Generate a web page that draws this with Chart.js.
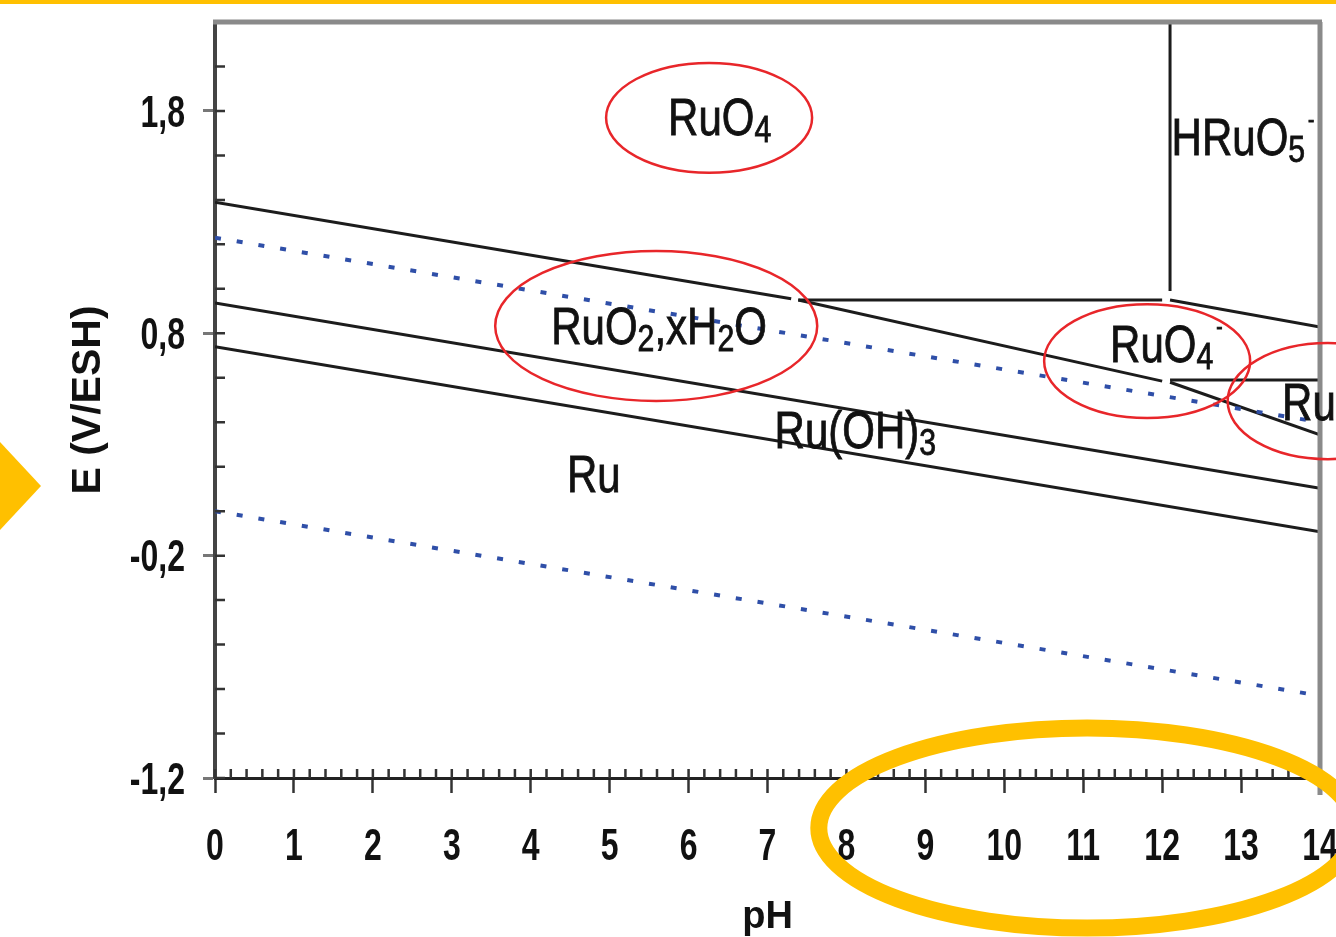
<!DOCTYPE html>
<html>
<head>
<meta charset="utf-8">
<title>Diagramme E-pH du ruthénium</title>
<script src="https://cdn.jsdelivr.net/npm/chart.js@4.4.1/dist/chart.umd.min.js"></script>
<style>
  html, body { margin: 0; padding: 0; background: #fff; overflow: hidden; }
  #wrap { position: absolute; left: 0; top: 0; width: 1380px; height: 937px; }
  #topBar { position: absolute; left: 0; top: 0; width: 1336px; height: 4px; background: #FFC000; z-index: 2; }
  #arrow { position: absolute; left: 0; top: 442px; width: 41px; height: 88px; background: #FFC000;
           clip-path: polygon(0 0, 100% 50%, 0 100%); z-index: 2; }
</style>
</head>
<body>
<div id="topBar"></div>
<div id="arrow"></div>
<div id="wrap"><canvas id="pourbaix"></canvas></div>
<script>
// axis ranges and tick labels
const pHRange = [0, 14];
const eRange = [-1.2, 2.2];
const yTickValues = [-1.2, -0.2, 0.8, 1.8];

// water stability lines (E at pH 0 and pH 14)
const waterPH = [0, 14];
const waterO2E = [1.23, 0.40];
const waterH2E = [0.0, -0.83];

// Ru boundaries, pH and E (V/ESH) of each segment end
const ruO4RuO2PH = [0, 7.3];        const ruO4RuO2E = [1.39, 0.955];
const ruO4mRuO2PH = [7.39, 12.0];   const ruO4mRuO2E = [0.95, 0.585];
const ruO42mRuO2PH = [12.1, 14];    const ruO42mRuO2E = [0.58, 0.343];
const ruO4RuO4mPH = [7.39, 12.0];   const ruO4RuO4mE = [0.95, 0.95];
const hRuO5RuO4mPH = [12.1, 14];    const hRuO5RuO4mE = [0.95, 0.828];
const ruO4HRuO5PH = [12.1, 12.1];   const ruO4HRuO5E = [2.2, 0.99];
const ruO4mRuO42mPH = [12.1, 14];   const ruO4mRuO42mE = [0.59, 0.59];
const ruO2RuOH3PH = [0, 14];        const ruO2RuOH3E = [0.936, 0.103];
const ruOH3RuPH = [0, 14];          const ruOH3RuE = [0.74, -0.093];

// species names (_ subscript, ^ superscript) placed at pH / E
const regionLabels = [
  { text: 'RuO_4', pH: 5.74, E: 1.692 },
  { text: 'HRuO_5^-', pH: 12.12, E: 1.602 },
  { text: 'RuO_2,xH_2O', pH: 4.26, E: 0.752 },
  { text: 'RuO_4^-', pH: 11.34, E: 0.671 },
  { text: 'RuO_4^{2-}', pH: 13.52, E: 0.41 },
  { text: 'Ru(OH)_3', pH: 7.09, E: 0.284 },
  { text: 'Ru', pH: 4.46, E: 0.086 }
];

// highlight rings: centre and half sizes in pH / V
const redRings = [
  { pH: 6.26, E: 1.769, dPH: 1.305, dE: 0.247 },
  { pH: 5.59, E: 0.833, dPH: 2.04, dE: 0.337 },
  { pH: 11.81, E: 0.675, dPH: 1.305, dE: 0.256 },
  { pH: 14.1, E: 0.495, dPH: 1.27, dE: 0.261 }
];
const yellowRing = { pH: 11.05, E: -1.425, dPH: 3.4, dE: 0.45 };

function pts(xs, ys) {
  return xs.map((x, i) => ({ x: x, y: ys[i] }));
}

function boundary(xs, ys) {
  return { data: pts(xs, ys), showLine: true, borderColor: '#1c1c1c', borderWidth: 3,
           pointRadius: 0, fill: false };
}

function waterLine(ys) {
  return { data: pts(waterPH, ys), showLine: true, borderColor: '#2f4fa8', borderWidth: 4,
           borderDash: [6, 16], pointRadius: 0, fill: false };
}

// text in the figure is tall and narrow, so it is drawn with a vertical stretch
function drawTall(ctx, s, x, y, align, size, stretch) {
  ctx.save();
  ctx.translate(x, y);
  ctx.scale(1, stretch);
  ctx.font = 'bold ' + size + 'px "Liberation Sans", Arial, sans-serif';
  ctx.fillStyle = '#111';
  ctx.textAlign = align;
  ctx.textBaseline = 'alphabetic';
  ctx.fillText(s, 0, 0.358 * size);   // centre of the digits on y
  ctx.restore();
}

// draws a formula such as RuO_4^- with sub/superscripts
function drawChem(ctx, text, x, y) {
  const size = 42, stretch = 1.22;
  const tokens = text.match(/_\{[^}]*\}|\^\{[^}]*\}|_.|\^.|[^_^]+/g);
  ctx.save();
  ctx.translate(x, y);
  ctx.scale(1, stretch);
  ctx.fillStyle = '#111';
  ctx.strokeStyle = '#111';
  ctx.lineWidth = 0.7;
  ctx.textBaseline = 'alphabetic';
  let cx = 0;
  for (const tk of tokens) {
    let s = tk, fs = size, dy = 0;
    if (tk[0] === '_') { s = tk.slice(1).replace(/[{}]/g, ''); fs = size * 0.72; dy = 6; }
    else if (tk[0] === '^') { s = tk.slice(1).replace(/[{}]/g, ''); fs = size * 0.45; dy = -23; cx += 3; }
    ctx.font = fs + 'px "Liberation Sans", Arial, sans-serif';
    ctx.fillText(s, cx, dy);
    ctx.strokeText(s, cx, dy);
    cx += ctx.measureText(s).width;
  }
  ctx.restore();
}

function ring(ctx, xs, ys, r, color, width) {
  const cx = xs.getPixelForValue(r.pH), cy = ys.getPixelForValue(r.E);
  const rx = Math.abs(xs.getPixelForValue(r.pH + r.dPH) - cx);
  const ry = Math.abs(ys.getPixelForValue(r.E + r.dE) - cy);
  ctx.beginPath();
  ctx.ellipse(cx, cy, rx, ry, 0, 0, Math.PI * 2);
  ctx.strokeStyle = color;
  ctx.lineWidth = width;
  ctx.stroke();
}

const decorPlugin = {
  id: 'decor',
  afterDraw(chart) {
    const ctx = chart.ctx;
    const xs = chart.scales.x, ys = chart.scales.y;
    const a = chart.chartArea;
    ctx.save();

    // inner minor ticks every 0.2
    ctx.strokeStyle = '#333';
    ctx.lineWidth = 2.5;
    ctx.beginPath();
    for (let i = 0; i <= 17; i++) {
      const py = ys.getPixelForValue(eRange[0] + i * 0.2);
      ctx.moveTo(a.left, py);
      ctx.lineTo(a.left + 10, py);
    }
    for (let i = 0; i <= 70; i++) {
      const px = xs.getPixelForValue(i * 0.2);
      ctx.moveTo(px, a.bottom);
      ctx.lineTo(px, a.bottom - 9);
    }
    ctx.stroke();

    // top and right frame
    ctx.strokeStyle = '#8a8a8a';
    ctx.lineWidth = 5;
    ctx.beginPath();
    ctx.moveTo(a.left - 2, a.top);
    ctx.lineTo(a.right + 2, a.top);
    ctx.moveTo(a.right, a.top);
    ctx.lineTo(a.right, a.bottom + 17);
    ctx.stroke();

    // tick labels from the scales' own ticks
    for (const t of xs.ticks) {
      drawTall(ctx, xs.getLabelForValue(t.value), xs.getPixelForValue(t.value), a.bottom + 66, 'center', 32, 1.38);
    }
    for (const t of ys.ticks) {
      drawTall(ctx, t.label, a.left - 30, ys.getPixelForValue(t.value), 'right', 32, 1.38);
    }

    // species names
    for (const lb of regionLabels) {
      drawChem(ctx, lb.text, xs.getPixelForValue(lb.pH), ys.getPixelForValue(lb.E));
    }

    // rings
    for (const r of redRings) ring(ctx, xs, ys, r, '#e8262a', 2.5);
    ring(ctx, xs, ys, yellowRing, '#FFC000', 17);

    ctx.restore();
  }
};

new Chart(document.getElementById('pourbaix'), {
  type: 'scatter',
  data: {
    datasets: [
      waterLine(waterO2E),
      waterLine(waterH2E),
      boundary(ruO4RuO2PH, ruO4RuO2E),
      boundary(ruO4mRuO2PH, ruO4mRuO2E),
      boundary(ruO42mRuO2PH, ruO42mRuO2E),
      boundary(ruO4RuO4mPH, ruO4RuO4mE),
      boundary(hRuO5RuO4mPH, hRuO5RuO4mE),
      boundary(ruO4HRuO5PH, ruO4HRuO5E),
      boundary(ruO4mRuO42mPH, ruO4mRuO42mE),
      boundary(ruO2RuOH3PH, ruO2RuOH3E),
      boundary(ruOH3RuPH, ruOH3RuE)
    ]
  },
  options: {
    responsive: true,
    maintainAspectRatio: false,
    animation: false,
    layout: { padding: { left: 0, top: 22, right: 60, bottom: 0 } },
    plugins: { legend: { display: false }, tooltip: { enabled: false } },
    scales: {
      x: {
        type: 'linear',
        min: pHRange[0],
        max: pHRange[1],
        ticks: { stepSize: 1, display: false },
        grid: { drawOnChartArea: false, drawTicks: true, tickLength: 15, tickWidth: 2.5, tickColor: '#333' },
        border: { color: '#222', width: 3 },
        title: {
          display: true,
          text: 'pH',
          color: '#111',
          font: { family: '"Liberation Sans", Arial, sans-serif', weight: 'bold', size: 38 },
          padding: { top: 0, bottom: -3 }
        },
        afterFit(scale) {
          scale.height = 159;
          scale.paddingLeft = 0;
          scale.paddingRight = 0;
        }
      },
      y: {
        type: 'linear',
        min: eRange[0],
        max: eRange[1],
        afterBuildTicks(scale) {
          scale.ticks = yTickValues.map(v => ({ value: v }));
        },
        ticks: {
          display: false,
          callback: v => v.toFixed(1).replace('.', ',')
        },
        grid: { drawOnChartArea: false, drawTicks: true, tickLength: 12, tickWidth: 3, tickColor: '#777' },
        border: { color: '#444', width: 4 },
        title: {
          display: true,
          text: 'E (V/ESH)',
          color: '#111',
          font: { family: '"Liberation Sans", Arial, sans-serif', weight: 'bold', size: 41 },
          padding: { top: 64, bottom: 0 }
        },
        afterFit(scale) {
          scale.width = 215;
          scale.paddingTop = 0;
          scale.paddingBottom = 0;
        }
      }
    }
  },
  plugins: [decorPlugin]
});
</script>
</body>
</html>
